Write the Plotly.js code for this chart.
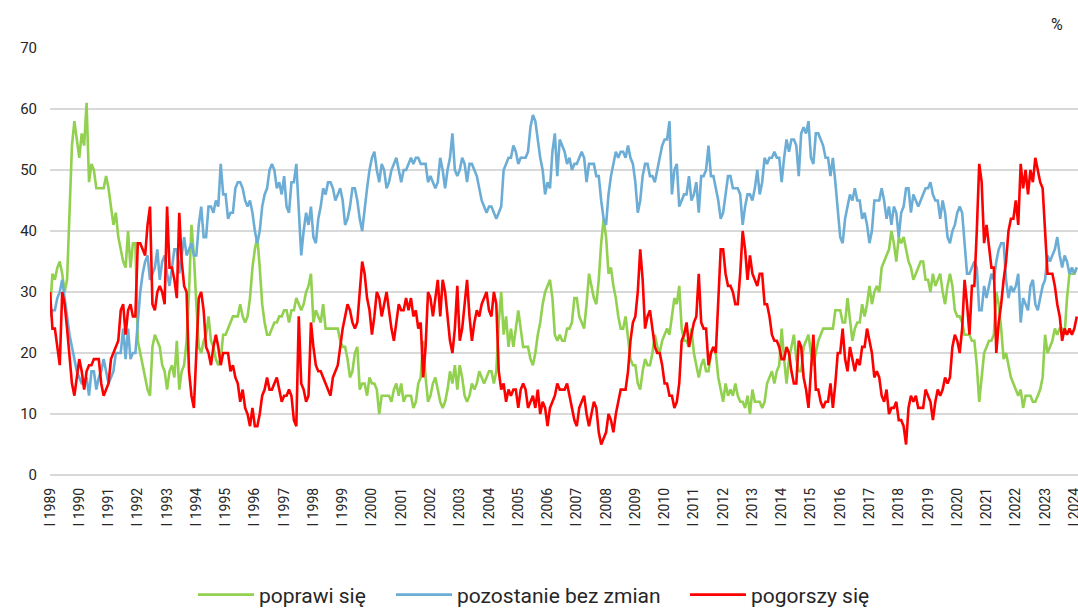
<!DOCTYPE html>
<html>
<head>
<meta charset="utf-8">
<script src="https://cdn.plot.ly/plotly-3.0.1.min.js"></script>
<style>
  html, body { margin: 0; padding: 0; background: #ffffff; }
  #chart { width: 1078px; height: 608px; }
</style>
</head>
<body>
<div id="chart"></div>
<script>
// Tick labels (January of each year)
const years = [1989,1990,1991,1992,1993,1994,1995,1996,1997,1998,1999,2000,2001,2002,2003,2004,2005,2006,2007,2008,2009,2010,2011,2012,2013,2014,2015,2016,2017,2018,2019,2020,2021,2022,2023,2024];

// Monthly values, % (Jan 1989 - Feb 2024)
const poprawi = [
  27,33,32,34,35,33,30,32,43,54,58,55,
  52,56,54,61,48,51,50,47,47,47,47,49,
  47,44,41,43,39,37,35,34,40,34,38,38,
  22,20,18,16,14,13,21,23,22,21,18,17,
  14,17,18,16,22,14,17,18,22,30,41,36,
  28,21,20,22,23,26,22,21,19,18,19,23,
  23,24,25,26,26,26,28,26,25,26,29,34,
  37,39,34,28,25,23,23,24,25,25,26,26,
  27,27,25,27,27,29,28,27,28,30,31,33,
  25,27,26,25,28,24,24,24,24,24,24,22,
  21,21,19,16,17,20,21,14,15,15,13,16,
  15,15,14,10,13,13,13,13,12,14,15,13,
  15,12,13,13,13,11,12,15,16,22,16,12,
  13,15,16,14,12,11,12,14,17,15,18,14,
  18,16,13,12,13,15,14,15,17,16,15,16,
  17,17,15,17,25,30,23,26,21,24,21,24,
  27,24,21,21,21,19,18,20,23,25,28,30,
  31,32,29,23,22,23,22,22,24,24,25,29,
  29,26,25,24,28,33,31,29,28,32,38,42,
  39,33,34,31,29,26,24,24,26,22,19,18,
  18,15,14,17,19,18,18,20,23,21,20,22,
  23,24,23,26,29,28,31,24,22,22,21,24,
  20,18,16,18,19,17,17,20,21,20,16,14,
  12,15,13,14,13,15,13,12,12,11,13,10,
  14,12,12,12,11,12,15,16,17,15,17,18,
  24,19,15,19,21,23,19,17,17,21,22,23,
  20,18,20,22,23,24,24,24,24,24,27,27,
  27,25,25,29,25,22,24,25,25,28,26,28,
  31,28,30,31,30,34,35,36,37,40,38,35,
  39,38,39,37,35,34,32,33,34,35,35,32,
  32,30,33,31,32,33,30,28,31,33,31,27,
  26,26,25,23,23,23,22,22,18,12,16,20,
  21,22,22,23,30,28,24,19,20,18,16,15,
  14,13,14,11,13,13,13,12,12,13,14,16,
  23,20,21,22,24,23,24,24,23,29,33,33,
  33,34
];

const bezZmian = [
  26,27,27,29,30,32,29,26,23,21,19,17,
  16,15,15,16,13,17,17,14,16,17,19,17,
  15,16,17,20,20,20,24,19,24,19,20,20,
  25,30,33,35,36,32,33,34,37,32,35,36,
  33,31,34,37,37,33,36,39,36,37,38,36,
  36,41,44,39,39,44,44,43,45,44,51,46,
  46,42,43,43,47,48,48,47,45,44,45,43,
  40,38,40,44,46,47,50,51,50,47,48,46,
  49,44,43,48,48,51,44,36,40,43,41,44,
  39,38,42,44,47,46,48,48,47,45,46,47,
  45,41,42,44,47,47,45,42,40,44,47,50,
  52,53,50,48,51,50,47,48,50,51,52,50,
  48,50,50,51,52,51,52,52,51,51,51,48,
  49,48,47,48,52,50,47,50,52,56,50,49,
  50,52,51,48,51,51,50,49,47,45,44,43,
  44,44,43,42,43,44,50,51,52,52,54,53,
  51,52,52,52,53,57,59,58,55,52,50,46,
  48,47,53,56,49,55,54,53,51,52,50,51,
  51,52,53,52,48,51,51,51,49,49,45,42,
  41,46,49,51,53,52,53,53,52,54,52,51,
  48,43,45,49,51,51,49,49,48,50,52,54,
  55,55,58,46,50,51,44,45,46,46,49,45,
  46,48,43,49,49,50,54,49,49,47,45,42,
  43,46,49,49,47,47,47,46,41,44,46,46,
  45,47,50,46,48,52,51,52,52,53,52,52,
  48,52,55,53,55,55,54,49,56,57,56,58,
  52,51,56,56,55,54,52,52,49,52,48,43,
  39,38,42,44,46,45,47,45,45,42,43,41,
  38,40,45,45,45,47,45,42,44,41,44,43,
  39,43,44,47,47,43,46,45,44,45,46,47,
  47,48,46,45,45,42,45,43,39,38,40,41,
  43,44,43,38,33,33,34,35,34,27,27,31,
  29,31,33,32,35,37,38,38,32,29,31,30,
  31,33,25,29,28,27,31,32,28,27,29,31,
  32,36,35,36,37,39,36,34,36,35,33,34,
  33,34
];

const pogorszy = [
  30,24,24,21,18,30,28,24,19,15,13,16,
  19,17,14,17,18,18,19,19,19,15,13,14,
  15,19,20,21,22,27,28,23,27,28,26,26,
  38,38,37,36,41,44,28,27,30,31,30,28,
  44,34,34,32,29,43,35,31,30,17,13,11,
  20,29,30,27,21,20,18,21,23,21,18,20,
  20,20,17,18,16,15,12,14,11,10,8,11,
  8,8,10,13,14,16,14,14,15,16,14,12,
  13,13,14,13,9,8,26,15,14,12,13,25,
  21,18,17,17,16,15,14,13,16,17,18,21,
  24,26,28,27,25,24,25,30,35,33,29,27,
  23,26,30,29,26,28,30,27,24,22,25,28,
  27,27,29,27,29,26,27,24,25,16,21,30,
  29,26,29,32,26,32,30,26,22,20,24,31,
  22,24,28,32,26,22,25,27,26,28,29,30,
  27,26,30,28,17,14,15,12,14,13,14,14,
  11,14,15,14,11,12,13,11,14,10,12,11,
  8,11,12,13,15,14,14,14,15,13,11,9,
  8,11,12,13,10,8,10,12,11,7,5,6,
  7,10,9,7,10,12,14,14,14,17,22,25,
  26,30,37,32,24,26,27,24,21,20,20,18,
  15,15,13,13,11,12,15,22,23,25,21,23,
  25,26,33,25,24,24,18,20,21,20,29,37,
  37,33,31,31,30,28,28,33,40,37,32,36,
  33,32,31,33,33,28,28,26,23,22,22,21,
  19,19,21,20,17,15,15,22,21,16,14,11,
  17,23,14,14,12,11,12,12,15,11,15,20,
  20,24,19,17,21,19,17,19,18,21,21,24,
  22,20,16,17,16,13,12,14,10,11,11,12,
  9,9,8,5,11,13,12,13,11,11,11,14,
  13,12,9,12,14,13,14,16,15,16,21,23,
  22,20,24,32,28,23,31,31,40,51,48,38,
  41,37,34,34,20,25,28,32,35,40,42,42,
  45,41,51,47,50,46,50,48,52,50,48,47,
  40,33,33,33,31,28,26,22,24,23,24,23,
  24,26
];

const seriesNames = ['poprawi się', 'pozostanie bez zmian', 'pogorszy się'];
const seriesColors = ['#92d050', '#6cadd6', '#ff0000'];
const seriesValues = [poprawi, bezZmian, pogorszy];
const legendIds = ['legend', 'legend2', 'legend3'];

const months = poprawi.map((_, i) => i);
const tickVals = years.map((y, i) => i * 12);
const tickText = years.map(y => 'I ' + y);

const traces = seriesValues.map((vals, k) => ({
  type: 'scatter',
  mode: 'lines',
  name: seriesNames[k],
  legend: legendIds[k],
  x: months,
  y: vals,
  line: { color: seriesColors[k], width: 2.6 },
  hoverinfo: 'skip'
}));

const fontFam = 'Roboto, "Liberation Sans", Arial, sans-serif';

function legendAt(px) {
  return {
    orientation: 'h',
    x: (px - 50) / 1028, xanchor: 'left',
    y: -0.2810, yanchor: 'middle',
    font: { size: 21, color: '#262626', family: fontFam },
    itemwidth: 56,
    bgcolor: 'rgba(0,0,0,0)'
  };
}

const layout = {
  width: 1078,
  height: 608,
  margin: { l: 50, r: 0, t: 48, b: 133, autoexpand: false },
  paper_bgcolor: '#ffffff',
  plot_bgcolor: '#ffffff',
  font: { family: fontFam, color: '#262626' },
  showlegend: true,
  legend: legendAt(193),
  legend2: legendAt(391),
  legend3: legendAt(685),
  xaxis: {
    range: [0, 421.5],
    tickvals: tickVals,
    ticktext: tickText,
    tickangle: -90,
    tickfont: { size: 14, color: '#262626', family: fontFam },
    ticklabeloverflow: 'allow',
    showgrid: false,
    zeroline: false,
    showline: false,
    ticks: '',
    ticklabelstandoff: 9,
    automargin: false,
    fixedrange: true
  },
  yaxis: {
    range: [0, 70],
    dtick: 10,
    tick0: 0,
    showgrid: true,
    gridcolor: '#d9d9d9',
    gridwidth: 1.3,
    zeroline: true,
    zerolinecolor: '#d9d9d9',
    zerolinewidth: 1.3,
    showline: false,
    ticks: '',
    tickfont: { size: 15, color: '#262626', family: fontFam },
    ticklabelstandoff: 12,
    automargin: false,
    fixedrange: true
  },
  annotations: [{
    text: '%',
    xref: 'paper', yref: 'paper',
    x: 0.98, y: 1.054,
    xanchor: 'center', yanchor: 'middle',
    showarrow: false,
    font: { size: 16, color: '#262626', family: fontFam }
  }]
};

Plotly.newPlot('chart', traces, layout, { staticPlot: true, displayModeBar: false });
</script>
</body>
</html>
